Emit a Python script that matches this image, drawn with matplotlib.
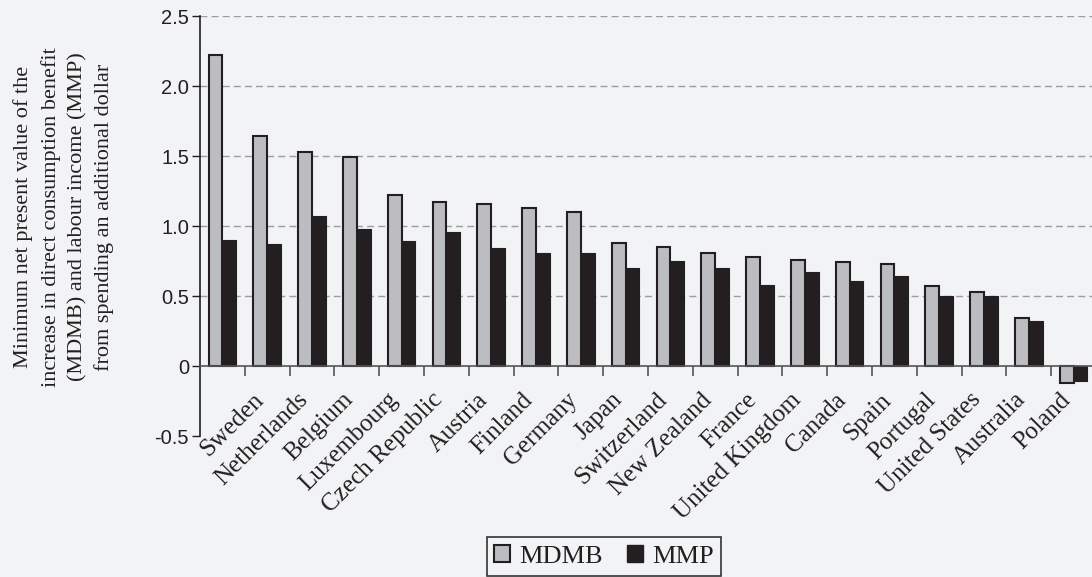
import numpy as np
import matplotlib.pyplot as plt
import matplotlib.transforms as mtransforms
from matplotlib.patches import Patch

countries = ["", "Sweden", "Netherlands", "Belgium", "Luxembourg", "Czech Republic",
             "Austria", "Finland", "Germany", "Japan", "Switzerland", "New Zealand",
             "France", "United Kingdom", "Canada", "Spain", "Portugal",
             "United States", "Australia", "Poland"]
mdmb = [2.22, 1.64, 1.53, 1.49, 1.22, 1.17, 1.16, 1.13, 1.10, 0.88,
        0.85, 0.81, 0.78, 0.76, 0.74, 0.73, 0.57, 0.53, 0.34, -0.12]
mmp = [0.90, 0.87, 1.07, 0.98, 0.89, 0.96, 0.84, 0.81, 0.81, 0.70,
       0.75, 0.70, 0.58, 0.67, 0.61, 0.64, 0.50, 0.50, 0.32, -0.11]
yticks = [-0.5, 0, 0.5, 1.0, 1.5, 2.0, 2.5]
ytick_labels = ["-0.5", "0", "0.5", "1.0", "1.5", "2.0", "2.5"]

bg = "#f1f3f5"
dark = "#231f20"
grey = "#bcbdc1"

fig = plt.figure(figsize=(10.92, 5.77), dpi=100, facecolor=bg)
ax = fig.add_axes([200 / 1092, 141 / 577, 896 / 1092, 420 / 577], facecolor=bg)

x = np.arange(len(countries))
w = 0.31
ax.bar(x - w / 2, mdmb, w, color=grey, edgecolor=dark, linewidth=1.5, zorder=3)
ax.bar(x + w / 2, mmp, w, color=dark, edgecolor=dark, linewidth=0.8, zorder=3)

ax.set_xlim(-0.5, len(countries) - 0.5)
ax.set_ylim(-0.5, 2.5)

for v in yticks[2:]:
    ax.axhline(v, color="#9a9da2", lw=1.0, ls=(0, (5, 3)), zorder=1)

for s in ["top", "right"]:
    ax.spines[s].set_visible(False)
ax.spines["bottom"].set_position(("data", 0))
ax.spines["bottom"].set_color("#555555")
ax.spines["bottom"].set_linewidth(1.2)
ax.spines["bottom"].set_zorder(4)
ax.spines["left"].set_color(dark)
ax.spines["left"].set_linewidth(1.2)

ax.set_yticks(yticks)
ax.set_yticklabels(ytick_labels, fontfamily="Liberation Sans", fontsize=14.5, color=dark)
ax.tick_params(axis="y", length=6, width=1, color=dark, pad=2)

ax.set_xticks(x)
ax.set_xticklabels(countries, rotation=45, ha="right", va="center",
                   rotation_mode="anchor", fontfamily="Liberation Serif",
                   fontsize=18, color=dark)
ax.set_xticks(x[:-1] + 0.5, minor=True)
ax.tick_params(axis="x", which="major", length=0, pad=22)
ax.tick_params(axis="x", which="minor", length=7, width=1.2, color="#555555")
offset = mtransforms.ScaledTranslation(-7 / 100, 0, fig.dpi_scale_trans)
for lab in ax.get_xticklabels():
    lab.set_transform(lab.get_transform() + offset)

fig.text(64 / 1092, 1 - 217 / 577,
         "Minimum net present value of the\nincrease in direct consumption benefit\n"
         "(MDMB) and labour income (MMP)\nfrom spending an additional dollar",
         rotation=90, ha="center", va="center", multialignment="center",
         fontfamily="Liberation Serif", fontsize=16, color=dark, linespacing=1.5)

handles = [Patch(facecolor=grey, edgecolor=dark, linewidth=1.5, label="MDMB"),
           Patch(facecolor=dark, edgecolor=dark, label="MMP")]
leg = fig.legend(handles=handles, loc="upper center", ncol=2,
                 bbox_to_anchor=(604 / 1092, 1 - 537 / 577),
                 prop={"family": "Liberation Serif", "size": 19},
                 frameon=True, fancybox=False, edgecolor="#333333",
                 facecolor=bg, framealpha=1, handlelength=0.6, handleheight=0.6,
                 handletextpad=0.35, columnspacing=0.9, borderpad=0.3,
                 borderaxespad=0)
leg.get_frame().set_linewidth(1.2)
for t in leg.get_texts():
    t.set_color(dark)

fig.savefig("out.png", dpi=100, facecolor=bg)
